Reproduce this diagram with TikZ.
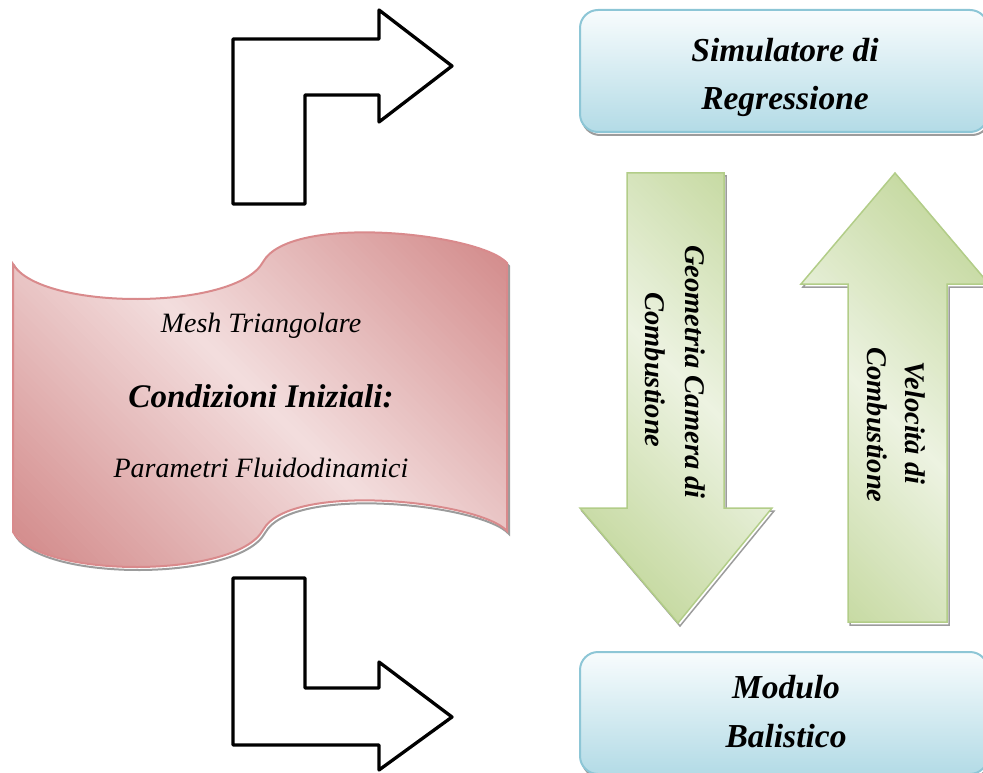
\documentclass[tikz,border=0pt]{standalone}
\usepackage{fontspec}
\setmainfont{Liberation Serif}
\definecolor{boxtop}{HTML}{F8FCFD}
\definecolor{boxbot}{HTML}{B3DBE6}
\definecolor{boxline}{HTML}{8DC6D6}
\definecolor{wavedark}{HTML}{D48E8E}
\definecolor{wavelight}{HTML}{F3DEDE}
\definecolor{waveline}{HTML}{D98A8C}
\definecolor{grdark}{HTML}{C7DAA3}
\definecolor{grlight}{HTML}{EDF3E2}
\definecolor{grline}{HTML}{B2CD88}
\definecolor{shadowc}{HTML}{9C9C9C}
% diagonal gradient drawn as thin bands of constant x-y (dark - light - dark)
\newcommand\mydiagfill[4]{%
  \pgfmathsetmacro\mystep{(#2-#1)/120}%
  \foreach \k in {0,...,119}{%
    \pgfmathsetmacro\myda{#1+\mystep*\k}%
    \pgfmathsetmacro\mydb{#1+\mystep*(\k+1.8)}%
    \pgfmathsetmacro\mywt{abs(2*(\k+0.5)/120-1)*100}%
    \fill[#3!\mywt!#4] (-300,-300-\myda) -- (1300,1300-\myda) -- (1300,1300-\mydb) -- (-300,-300-\mydb) -- cycle;}}
\begin{document}
\begin{tikzpicture}[x=1pt,y=-1pt,
  shadowed/.style={preaction={draw=shadowc, line width=#1, transform canvas={shift={(2pt,-3pt)}}}},
  bluebox/.style={draw=boxline, line width=2pt, rounded corners=18pt,
    top color=boxtop, bottom color=boxbot,
    minimum width=408pt, minimum height=122pt, inner sep=0pt, shadowed=2pt},
  wave/.style={draw=waveline, line width=2pt, shadowed=2pt,
    path picture={\mydiagfill{-519}{244}{wavedark}{wavelight}}},
  grarrow/.style 2 args={draw=grline, line width=1.5pt, line join=miter, shadowed=1.5pt,
    path picture={\mydiagfill{#1}{#2}{grdark}{grlight}}},
  larrow/.style={draw=black, line width=3.3pt, line join=round, fill=white},
  boxtxt/.style={inner sep=0pt, font=\fontsize{33.5}{40}\selectfont\bfseries\itshape},
  wavetxt/.style={inner sep=0pt, font=\fontsize{28}{34}\selectfont\itshape},
  wavebold/.style={inner sep=0pt, font=\fontsize{33}{40}\selectfont\bfseries\itshape},
  rottxt/.style={inner sep=0pt, rotate=-90, anchor=base, font=\fontsize{28.5}{34}\selectfont\bfseries\itshape}
]
\useasboundingbox (0,0) rectangle (983,773);
\clip (0,0) rectangle (983,773);

% L-shaped outline arrows
\draw[larrow] (233,204) -- (233,39) -- (379,39) -- (379,10) -- (452,66) -- (379,122) -- (379,95) -- (305,95) -- (305,204) -- cycle;
\draw[larrow] (233,578) -- (305,578) -- (305,688) -- (379,688) -- (379,662) -- (452,717) -- (379,770) -- (379,745) -- (233,745) -- cycle;

% wave (tape) shape
\path[wave] (13,264) .. controls (40,311) and (236,311) .. (263,262)
  .. controls (290,213) and (480,233) .. (507,263) -- (507,531)
  .. controls (480,501) and (290,481) .. (263,530)
  .. controls (236,579) and (40,579) .. (13,532) -- cycle;
\node[wavetxt, anchor=base] (mesh) at (261,332) {Mesh Triangolare};
\node[wavebold, anchor=base] (cond) at (261,407) {Condizioni Iniziali:};
\node[wavetxt, anchor=base] (param) at (261,477) {Parametri Fluidodinamici};

% blue boxes
\node[bluebox] (sim) at (784,71) {};
\node[boxtxt, anchor=base] (simA) at (785,62) {Simulatore di};
\node[boxtxt, anchor=base] (simB) at (785,110) {Regressione};
\node[bluebox] (mod) at (784,713) {};
\node[boxtxt, anchor=base] (modA) at (786,698) {Modulo};
\node[boxtxt, anchor=base] (modB) at (786,747) {Balistico};

% green block arrows
\path[grarrow={55}{551}] (627,173) -- (724,173) -- (724,508) -- (772,508) -- (678,623) -- (580,508) -- (627,508) -- cycle;
\path[grarrow={226}{722}] (895,173) -- (989,284) -- (947,284) -- (947,622) -- (848,622) -- (848,284) -- (801,284) -- cycle;
\node[rottxt] (geoA) at (685,372) {Geometria Camera di};
\node[rottxt] (geoB) at (645,370) {Combustione};
\node[rottxt] (velA) at (905,423) {Velocità di};
\node[rottxt] (velB) at (867,425) {Combustione};
\end{tikzpicture}
\end{document}
